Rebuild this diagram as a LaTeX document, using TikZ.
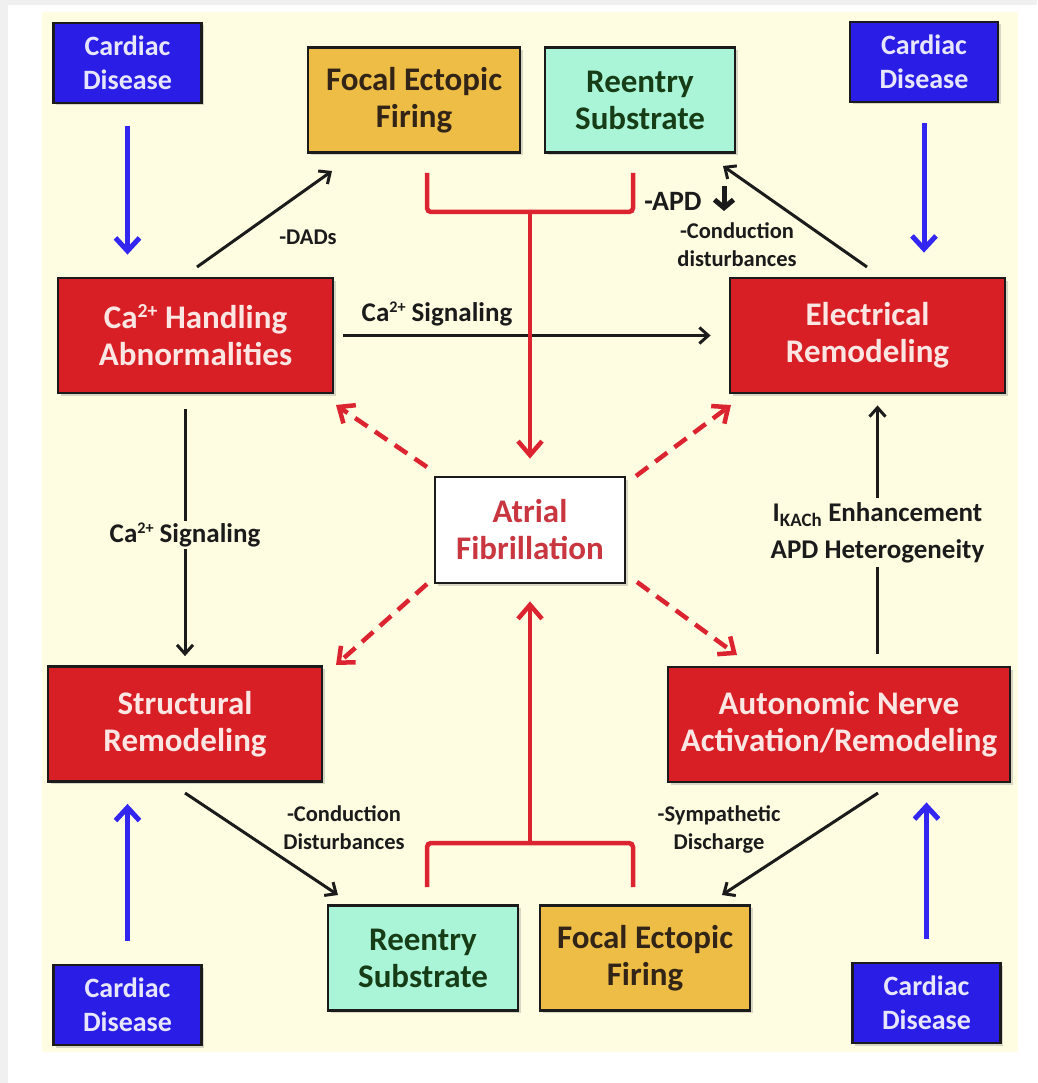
\documentclass[tikz,border=0pt]{standalone}
\usepackage{fontspec}
\setmainfont{Carlito}
\usetikzlibrary{arrows.meta,shadows,calc}

\definecolor{panel}{HTML}{FEFCE1}
\definecolor{cdblue}{HTML}{2A1EE6}
\definecolor{cdtext}{HTML}{E8E6FF}
\definecolor{arrblue}{HTML}{3326F0}
\definecolor{boxred}{HTML}{D91F26}
\definecolor{redtext}{HTML}{FCE6E4}
\definecolor{focal}{HTML}{EDBD45}
\definecolor{reentry}{HTML}{AAF5D8}
\definecolor{lnred}{HTML}{DC2430}
\definecolor{afred}{HTML}{C93640}
\definecolor{ink}{HTML}{1B1B1B}

% small raised charge sign, as in Ca2+
\newcommand\ionsup[1]{\raisebox{0.34em}{\scalebox{0.6}{#1}}}

\tikzset{
  box/.style={draw=ink, line width=2.8pt, align=center, inner sep=0pt,
    drop shadow={shadow xshift=2.5pt, shadow yshift=-2.5pt, opacity=.3}},
  bigtext/.style={font=\fontsize{33}{37}\selectfont\bfseries},
  cardiac/.style={box, fill=cdblue, text=cdtext, minimum width=148pt, minimum height=80pt,
    font=\fontsize{28}{34}\selectfont\bfseries},
  redbox/.style={box, fill=boxred, text=redtext, minimum height=115pt, bigtext},
  focalbox/.style={box, fill=focal, text=ink!90!orange, minimum height=105pt, bigtext},
  reentrybox/.style={box, fill=reentry, text=ink!85!green, minimum height=105pt, bigtext},
  afbox/.style={box, fill=white, text=afred, minimum width=190pt, minimum height=106pt, bigtext},
  lbl/.style={text=ink, align=center, inner sep=2pt, font=\fontsize{27}{37}\selectfont\bfseries},
  smalllbl/.style={text=ink, align=center, inner sep=1pt, font=\fontsize{22.5}{28}\selectfont\bfseries},
  bluearr/.style={draw=arrblue, line width=5pt, -{Straight Barb[length=13pt,width=24pt]}},
  blkarr/.style={draw=ink, line width=3pt, -{Straight Barb[length=9pt,width=16pt]}},
  redline/.style={draw=lnred, line width=4.5pt, rounded corners=4pt},
  redarr/.style={draw=lnred, line width=4.5pt, -{Straight Barb[length=14pt,width=24pt]}},
  dasharr/.style={draw=lnred, line width=4.5pt, dash pattern=on 15pt off 9pt,
    -{Straight Barb[length=13pt,width=22pt]}},
}

\begin{document}
\begin{tikzpicture}[x=1pt, y=-1pt]
\useasboundingbox (0,0) rectangle (1037,1083);
\fill[white] (0,0) rectangle (1037,1083);
\fill[black!6] (0,0) rectangle (1037,5);
\fill[black!6] (0,0) rectangle (8,1083);
\fill[panel] (42,12) rectangle (1018,1052);

% boxes
\node[cardiac] (cdTL) at (127.5,63) {Cardiac\\Disease};
\node[cardiac] (cdTR) at (924,62) {Cardiac\\Disease};
\node[cardiac] (cdBL) at (127.5,1005) {Cardiac\\Disease};
\node[cardiac] (cdBR) at (926.5,1003) {Cardiac\\Disease};

\node[focalbox, minimum width=212pt] (focT) at (414,100) {Focal Ectopic\\Firing};
\node[reentrybox, minimum width=190pt] (reT) at (640,100) {Reentry\\Substrate};
\node[reentrybox, minimum width=190pt] (reB) at (423,958) {Reentry\\Substrate};
\node[focalbox, minimum width=210pt] (focB) at (645,958) {Focal Ectopic\\Firing};

\node[redbox, minimum width=275pt] (ca) at (195.5,335.5) {Ca\ionsup{2+} Handling\\Abnormalities};
\node[redbox, minimum width=275pt] (elec) at (867.5,335.5) {Electrical\\Remodeling};
\node[redbox, minimum width=274pt] (str) at (185,724) {Structural\\Remodeling};
\node[redbox, minimum width=342pt] (aut) at (839,724.5) {Autonomic Nerve\\Activation/Remodeling};

\node[afbox] (af) at (530,530) {Atrial\\Fibrillation};

% cardiac disease inputs
\draw[bluearr, shorten <=22pt, shorten >=22pt] (cdTL.south) -- (cdTL.south |- ca.north);
\draw[bluearr, shorten <=20pt, shorten >=24pt] (cdTR.south) -- (cdTR.south |- elec.north);
\draw[bluearr, shorten <=23pt, shorten >=21pt] (cdBL.north) -- (cdBL.north |- str.south);
\draw[bluearr, shorten <=23pt, shorten >=19pt] (cdBR.north) -- (cdBR.north |- aut.south);

% calcium signalling
\draw[blkarr, shorten <=9pt, shorten >=18pt] (ca.east) -- (elec.west);
\node[lbl] (casig1) at (437,314) {Ca\ionsup{2+} Signaling};
\draw[blkarr, shorten <=15pt, shorten >=9pt] (str.north |- ca.south) --
  node[lbl, fill=panel, pos=0.52] (casig2) {Ca\ionsup{2+} Signaling} (str.north);

% autonomic -> electrical
\coordinate (eS) at ($(elec.south)+(10,0)$);
\draw[blkarr, shorten <=12pt, shorten >=11pt] (eS |- aut.north) --
  node[lbl, fill=panel, inner sep=4pt, pos=0.49] (ikach) {I\textsubscript{KACh} Enhancement\\APD Heterogeneity} (eS);

% diagonal triggers
\coordinate (dadA) at (197,267);  \coordinate (dadB) at (332,171);
\draw[blkarr] (dadA) -- (dadB);
\node[smalllbl] (dads) at (308,237) {-DADs};

\coordinate (cndA) at (867,267);  \coordinate (cndB) at (723,166);
\draw[blkarr] (cndA) -- (cndB);
\node[smalllbl] (cnd) at (737,245) {-Conduction\\disturbances};
\node[smalllbl, font=\fontsize{28}{30}\selectfont\bfseries] (apd) at (673,201) {-APD};
\coordinate (apdA) at (724,186); \coordinate (apdB) at (724,211);
\draw[draw=ink, line width=5pt, -{Straight Barb[length=8pt,width=19pt]}] (apdA) -- (apdB);

\coordinate (strA) at (185,793);  \coordinate (strB) at (338,895);
\draw[blkarr] (strA) -- (strB);
\node[smalllbl] (cnd2) at (344,828) {-Conduction\\Disturbances};

\coordinate (autA) at (878,793);  \coordinate (autB) at (722,895);
\draw[blkarr] (autA) -- (autB);
\node[smalllbl] (symp) at (719,829) {-Sympathetic\\Discharge};

% mechanisms converging on AF
\coordinate (bkT) at (530,212);
\draw[redline] (427,173) |- (bkT) -| (633,173);
\draw[redarr, shorten >=17pt] (bkT) -- (af.north);
\coordinate (bkB) at (530,843);
\draw[redline] (427,887) |- (bkB) -| (633,887);
\draw[redarr, shorten >=17pt] (bkB) -- (af.south);

% AF feeding back on the substrates
\coordinate (ulA) at (427,467); \coordinate (ulB) at (336,405);
\coordinate (urA) at (636,476); \coordinate (urB) at (731,405);
\coordinate (llA) at (427,584); \coordinate (llB) at (336,665);
\coordinate (lrA) at (637,582); \coordinate (lrB) at (737,655);
\draw[dasharr] (ulA) -- (ulB);
\draw[dasharr] (urA) -- (urB);
\draw[dasharr] (llA) -- (llB);
\draw[dasharr] (lrA) -- (lrB);
\end{tikzpicture}
\end{document}
